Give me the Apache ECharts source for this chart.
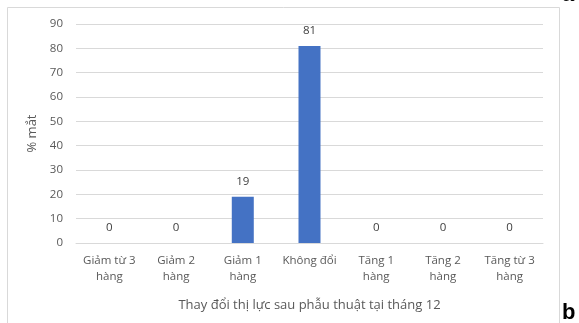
<!DOCTYPE html>
<html>
<head>
<meta charset="utf-8">
<script src="https://cdn.jsdelivr.net/npm/echarts@6/dist/echarts.min.js"></script>
<style>
  html, body { margin: 0; padding: 0; background: #fff; }
  #chart { width: 579px; height: 323px; }
</style>
</head>
<body>
<div id="chart"></div>
<script>
// Visual acuity change at month 12 after surgery (% of eyes)
const categories = [
  'Giảm từ 3\nhàng', 'Giảm 2\nhàng', 'Giảm 1\nhàng', 'Không đổi',
  'Tăng 1\nhàng', 'Tăng 2\nhàng', 'Tăng từ 3\nhàng'
];
const percentEyes = [0, 0, 19, 81, 0, 0, 0];
const yTicks = { min: 0, max: 90, interval: 10 };
const xTitle = 'Thay đổi thị lực sau phẫu thuật tại tháng 12';
const yTitle = '% mắt';

const FONT = "'Open Sans', 'Noto Sans', sans-serif";
const chart = echarts.init(document.getElementById('chart'), null, { renderer: 'canvas' });

chart.setOption({
  animation: false,
  backgroundColor: '#fff',
  grid: { left: 76, right: 36, top: 24, bottom: 80, containLabel: false },
  xAxis: {
    type: 'category',
    data: categories,
    name: xTitle,
    nameLocation: 'middle',
    nameGap: 56,
    nameTextStyle: { color: '#595959', fontSize: 13, fontFamily: FONT },
    axisLine: { show: true, lineStyle: { color: '#d9d9d9', width: 1 } },
    axisTick: { show: false },
    axisLabel: {
      color: '#595959', fontSize: 11.5, fontFamily: FONT,
      lineHeight: 16, margin: 10, interval: 0
    }
  },
  yAxis: {
    type: 'value',
    min: yTicks.min, max: yTicks.max, interval: yTicks.interval,
    name: yTitle,
    nameLocation: 'middle',
    nameGap: 34,
    nameRotate: 90,
    nameTextStyle: { color: '#595959', fontSize: 13, fontFamily: FONT },
    axisLine: { show: false },
    axisTick: { show: false },
    axisLabel: { color: '#595959', fontSize: 11.5, fontFamily: FONT, margin: 13 },
    splitLine: { lineStyle: { color: '#d9d9d9', width: 1 } }
  },
  series: [{
    type: 'bar',
    data: percentEyes,
    barWidth: 22,
    itemStyle: { color: '#4472C4' },
    label: {
      show: true, position: 'top', distance: 9,
      color: '#404040', fontSize: 11.5, fontFamily: FONT
    }
  }],
  graphic: [
    {
      type: 'rect',
      shape: { x: 7.5, y: 7.5, width: 552, height: 330 },
      style: { fill: 'none', stroke: '#d9d9d9', lineWidth: 1 },
      silent: true
    },
    {
      type: 'text', left: 562, top: -16,
      style: { text: 'a', fill: '#000', font: "bold 22px 'Liberation Sans', sans-serif" }
    },
    {
      type: 'text', left: 562, top: 302,
      style: { text: 'b', fill: '#000', font: "bold 22px 'Liberation Sans', sans-serif" }
    }
  ]
});
</script>
</body>
</html>
